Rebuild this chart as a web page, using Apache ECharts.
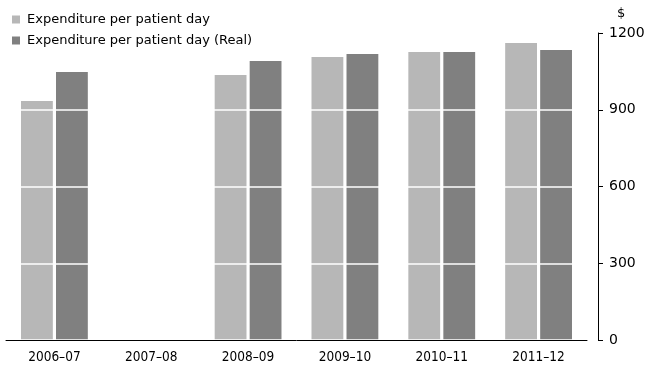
<!DOCTYPE html>
<html><head><meta charset="utf-8">
<script src="https://cdn.jsdelivr.net/npm/echarts@6/dist/echarts.min.js"></script>
<style>html,body{margin:0;padding:0;background:#fff}#c{width:654px;height:373px}</style>
</head><body><div id="c"></div>
<script>
const categories = ['2006–07','2007–08','2008–09','2009–10','2010–11','2011–12'];
const nominal = [934, null, 1036, 1106, 1126, 1161];
const real = [1048, null, 1091, 1118, 1126, 1134];
const yTicks = [0, 300, 600, 900, 1200];
const seriesNames = ['Expenditure per patient day', 'Expenditure per patient day (Real)'];

const FONT = 'DejaVu Sans';
const XFONT = '"DejaVu Sans Condensed", "DejaVu Sans"';
const chart = echarts.init(document.getElementById('c'));
chart.setOption({
  animation: false,
  textStyle: { fontFamily: FONT },
  legend: {
    orient: 'vertical', left: 7, top: 8, itemWidth: 8, itemHeight: 8, itemGap: 8,
    icon: 'rect',
    textStyle: { fontFamily: FONT, fontSize: 13, color: '#000', padding: [0,0,0,2] },
    data: seriesNames
  },
  grid: { left: 6, right: 67, top: 33, bottom: 33, containLabel: false },
  xAxis: {
    type: 'category', data: categories, z: 4,
    axisLine: { lineStyle: { color: '#000', width: 1 } },
    axisTick: { alignWithLabel: true, length: 5, lineStyle: { color: '#000' } },
    axisLabel: { color: '#000', fontSize: 13.5, margin: 10, fontFamily: XFONT }
  },
  yAxis: {
    type: 'value', position: 'right', offset: 11, min: 0, max: 1200, interval: 300, z: 3,
    name: '$', nameLocation: 'end', nameGap: 13,
    nameTextStyle: { color: '#000', fontSize: 13, fontFamily: FONT, align: 'left', padding: [0,0,0,19] },
    axisLine: { show: true, lineStyle: { color: '#000' } },
    axisTick: { show: true, length: 5, lineStyle: { color: '#000' } },
    axisLabel: { color: '#000', fontSize: 14, margin: 11, fontFamily: FONT,
      formatter: v => yTicks.includes(v) ? String(v) : '' },
    splitLine: { show: true, lineStyle: { color: '#fff', width: 1.5 } }
  },
  series: [
    { name: seriesNames[0], type: 'bar', data: nominal, itemStyle: { color: '#b7b7b7' },
      barGap: '10%', barCategoryGap: '31%' },
    { name: seriesNames[1], type: 'bar', data: real, itemStyle: { color: '#808080' },
      barGap: '10%', barCategoryGap: '31%' }
  ]
});
</script></body></html>
